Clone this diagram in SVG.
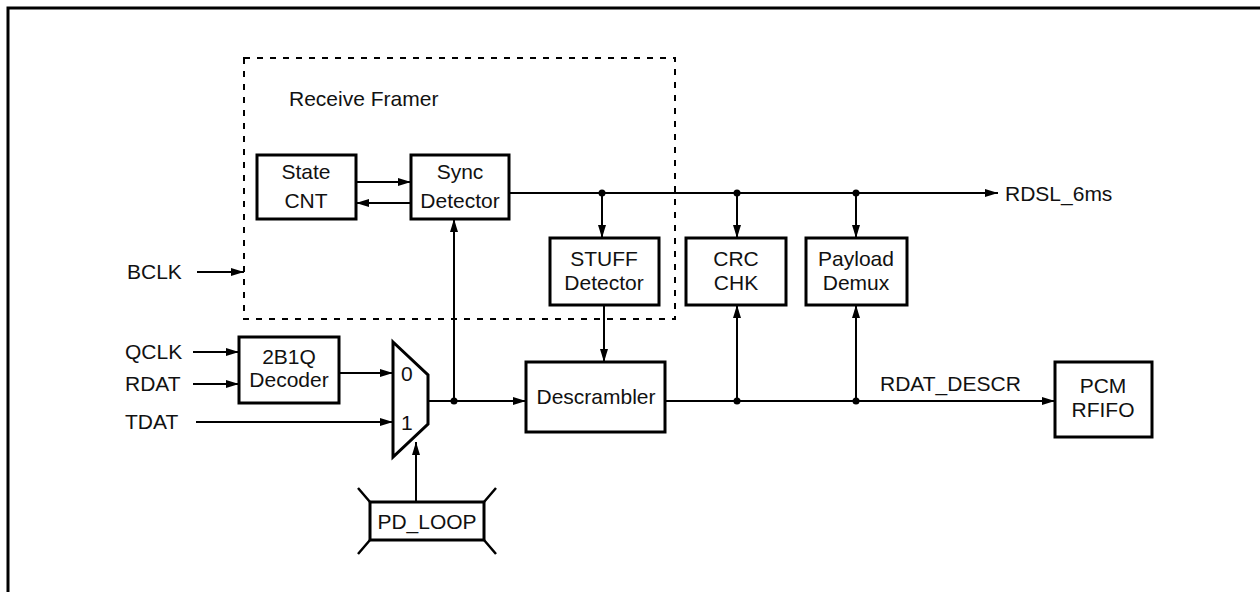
<svg xmlns="http://www.w3.org/2000/svg" width="1260" height="592" viewBox="0 0 1260 592">
<defs>
<marker id="ah" markerWidth="14" markerHeight="10" refX="13" refY="5" orient="auto" markerUnits="userSpaceOnUse">
<path d="M0,1 L13,5 L0,9 Z" fill="#000"/>
</marker>
<style>
text{font-family:"Liberation Sans",Arial,sans-serif;font-size:21px;fill:#111;}
.c{text-anchor:middle;}
.box{fill:#fff;stroke:#000;stroke-width:3;}
.w{fill:none;stroke:#000;stroke-width:2;}
.a{fill:none;stroke:#000;stroke-width:2;marker-end:url(#ah);}
.dot{fill:#000;}
</style>
</defs>
<rect width="1260" height="592" fill="#fff"/>
<path d="M8,592 V8 H1260" fill="none" stroke="#000" stroke-width="3"/>
<g id="framer">
<rect x="244" y="58" width="431" height="261" fill="none" stroke="#000" stroke-width="2" stroke-dasharray="6,7"/>
<text x="289" y="106">Receive Framer</text>
</g>
<g id="connectors">
<path class="a" d="M356,182 H411"/>
<path class="a" d="M411,203 H356"/>
<path class="a" d="M509,193 H998"/>
<path class="a" d="M602,193 V238"/>
<path class="a" d="M737,193 V238"/>
<path class="a" d="M856,193 V238"/>
<path class="a" d="M604,305 V362"/>
<path class="a" d="M197,272 H244"/>
<path class="a" d="M193,352 H239"/>
<path class="a" d="M193,384 H239"/>
<path class="a" d="M339,373 H393"/>
<path class="a" d="M196,422 H393"/>
<path class="a" d="M416,502 V442"/>
<path class="w" d="M428,401 H454"/>
<path class="a" d="M454,401 V219"/>
<path class="a" d="M454,401 H526"/>
<path class="w" d="M665,401 H737"/>
<path class="a" d="M737,401 V305"/>
<path class="w" d="M737,401 H856"/>
<path class="a" d="M856,401 V305"/>
<path class="a" d="M856,401 H1055"/>
<circle class="dot" cx="602" cy="193" r="3.5"/>
<circle class="dot" cx="737" cy="193" r="3.5"/>
<circle class="dot" cx="856" cy="193" r="3.5"/>
<circle class="dot" cx="454" cy="401" r="3.5"/>
<circle class="dot" cx="737" cy="401" r="3.5"/>
<circle class="dot" cx="856" cy="401" r="3.5"/>
</g>
<g id="state-cnt"><rect class="box" x="257" y="155" width="99" height="64"/><text class="c" x="306" y="179">State</text><text class="c" x="306" y="208">CNT</text></g>
<g id="sync-detector"><rect class="box" x="411" y="155" width="98" height="64"/><text class="c" x="460" y="179">Sync</text><text class="c" x="460" y="208">Detector</text></g>
<g id="stuff-detector"><rect class="box" x="550" y="238" width="109" height="67"/><text class="c" x="604" y="266">STUFF</text><text class="c" x="604" y="290">Detector</text></g>
<g id="crc-chk"><rect class="box" x="686" y="238" width="100" height="67"/><text class="c" x="736" y="266">CRC</text><text class="c" x="736" y="290">CHK</text></g>
<g id="payload-demux"><rect class="box" x="806" y="238" width="101" height="67"/><text class="c" x="856" y="266">Payload</text><text class="c" x="856" y="290">Demux</text></g>
<g id="descrambler"><rect class="box" x="526" y="362" width="139" height="70"/><text class="c" x="596" y="404">Descrambler</text></g>
<g id="pcm-rfifo"><rect class="box" x="1055" y="362" width="97" height="75"/><text class="c" x="1103" y="393">PCM</text><text class="c" x="1103" y="417">RFIFO</text></g>
<g id="decoder"><rect class="box" x="239" y="337" width="100" height="66"/><text class="c" x="289" y="364">2B1Q</text><text class="c" x="289" y="387">Decoder</text></g>
<g id="mux"><path class="box" d="M393,342 L428,375 V424 L393,457 Z"/><text x="401" y="381">0</text><text x="401" y="430">1</text></g>
<g id="pd-loop"><rect class="box" x="370" y="502" width="114" height="38"/><path d="M358,488 L370,502 M496,488 L484,502 M358,554 L370,540 M496,554 L484,540" stroke="#000" stroke-width="2.5"/><text class="c" x="427" y="529">PD_LOOP</text></g>
<g id="labels">
<text x="127" y="279">BCLK</text>
<text x="125" y="359">QCLK</text>
<text x="125" y="391">RDAT</text>
<text x="125" y="429">TDAT</text>
<text x="1005" y="201">RDSL_6ms</text>
<text x="880" y="391">RDAT_DESCR</text>
</g>
</svg>
